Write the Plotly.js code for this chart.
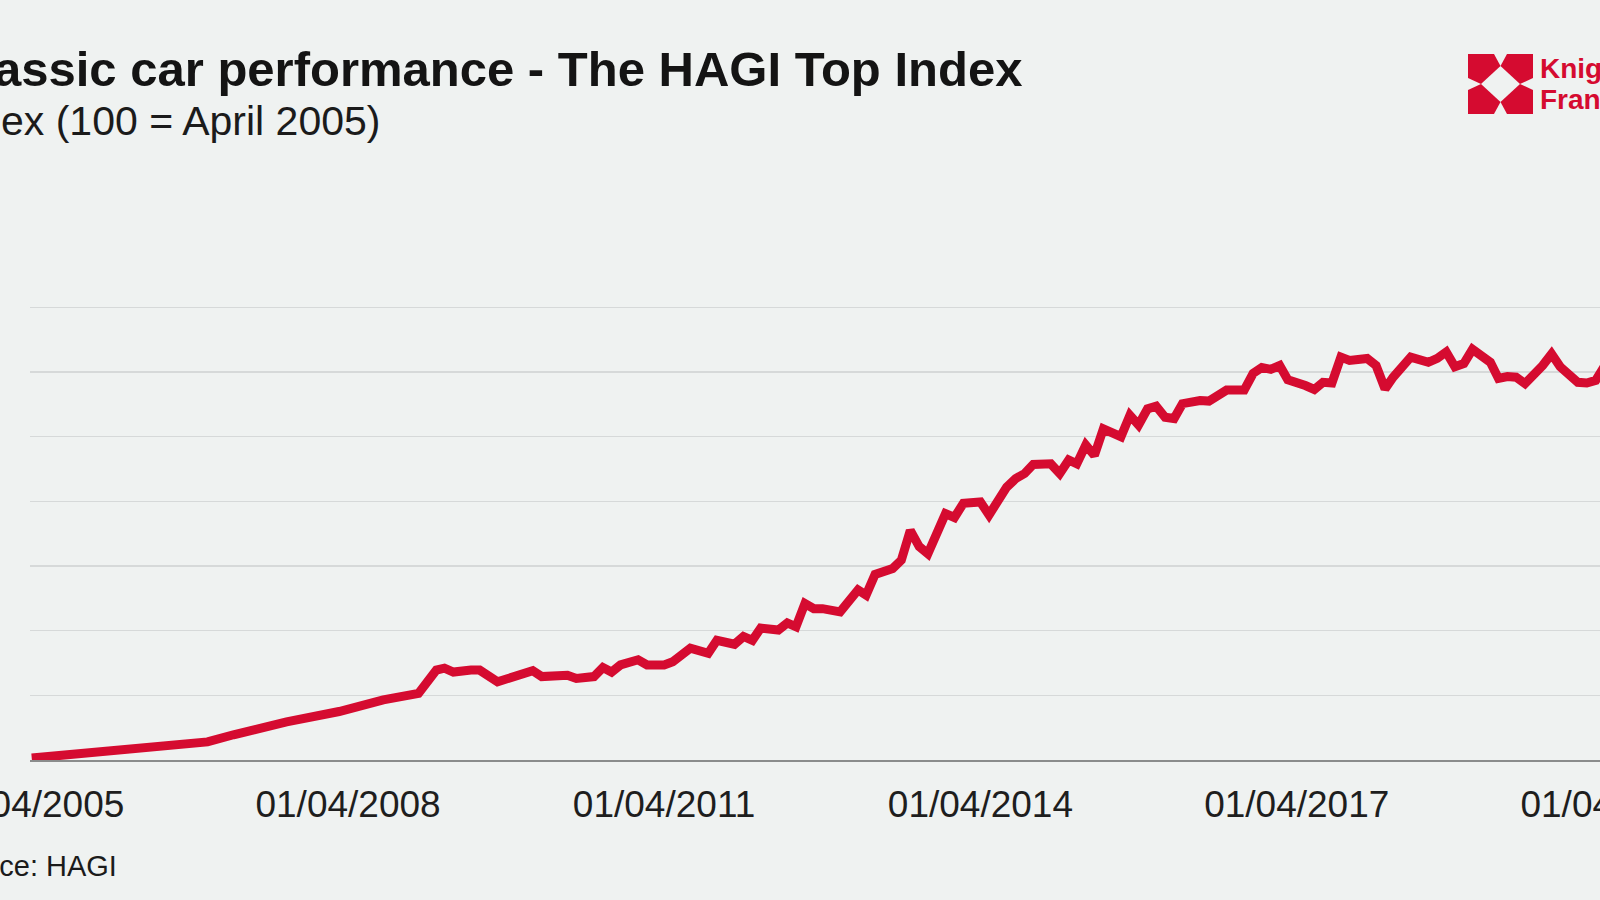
<!DOCTYPE html>
<html>
<head>
<meta charset="utf-8">
<script src="https://cdn.plot.ly/plotly-3.0.1.min.js"></script>
<style>
  html, body { margin: 0; padding: 0; width: 1600px; height: 900px; overflow: hidden; background: #eff2f1; }
  #chart { position: absolute; left: -100px; top: 0; width: 1800px; height: 900px; }
</style>
</head>
<body>
<div id="chart"></div>
<script>
// ---- Data ----
const dates = [
  "2005-04-01","2005-08-01","2006-02-01","2006-08-01","2006-12-01","2007-03-01","2007-09-01","2008-03-01",
  "2008-08-01","2008-12-01","2009-01-01","2009-02-01","2009-03-01","2009-04-01","2009-06-01","2009-07-01",
  "2009-09-01","2009-10-01","2010-01-01","2010-02-01","2010-05-01","2010-06-01","2010-08-01","2010-09-01",
  "2010-10-01","2010-11-01","2011-01-01","2011-02-01","2011-04-01","2011-05-01","2011-07-01","2011-09-01",
  "2011-10-01","2011-12-01","2012-01-01","2012-02-01","2012-03-01","2012-05-01","2012-06-01","2012-07-01",
  "2012-08-01","2012-09-01","2012-10-01","2012-12-01","2013-02-01","2013-03-01","2013-04-01","2013-06-01",
  "2013-07-01","2013-08-01","2013-09-01","2013-10-01","2013-12-01","2014-01-01","2014-02-01","2014-04-01",
  "2014-05-01","2014-07-01","2014-08-01","2014-09-01","2014-10-01","2014-12-01","2015-01-01","2015-02-01",
  "2015-03-01","2015-04-01","2015-05-01","2015-06-01","2015-08-01","2015-09-01","2015-10-01","2015-11-01",
  "2015-12-01","2016-01-01","2016-02-01","2016-03-01","2016-05-01","2016-06-01","2016-07-01","2016-08-01",
  "2016-10-01","2016-11-01","2016-12-01","2017-01-01","2017-02-01","2017-03-01","2017-05-01","2017-06-01",
  "2017-07-01","2017-08-01","2017-09-01","2017-10-01","2017-12-01","2018-01-01","2018-02-01","2018-03-01",
  "2018-05-01","2018-07-01","2018-08-01","2018-09-01","2018-10-01","2018-11-01","2018-12-01","2019-02-01",
  "2019-03-01","2019-04-01","2019-05-01","2019-06-01","2019-08-01","2019-09-01","2019-10-01","2019-12-01",
  "2020-01-01","2020-02-01","2020-03-01","2020-04-01"
];
const hagiTop = [
  103,108,115,123,128,139,159,175,
  193,203,224,239,242,236,239,239,
  221,226,238,229,231,226,229,243,
  236,247,255,247,247,252,273,265,
  285,279,291,285,304,301,312,306,
  342,334,334,329,363,355,387,396,
  409,455,430,419,481,475,497,499,
  479,522,535,543,557,558,543,564,
  558,587,571,612,600,633,618,643,
  647,630,628,651,656,655,662,672,
  672,698,707,704,710,688,679,673,
  684,683,723,718,721,710,674,692,
  723,715,721,731,708,713,735,715,
  690,693,692,682,710,728,708,684,
  683,687,708,722
];
const tickDates = ["2005-04-01","2008-04-01","2011-04-01","2014-04-01","2017-04-01","2020-04-01"];
const tickLabels = ["01/04/2005","01/04/2008","01/04/2011","01/04/2014","01/04/2017","01/04/2020"];
const gridVals = [200,300,400,500,600,700,800];

const titleText = "Classic car performance - The HAGI Top Index";
const subtitleText = "Index (100 = April 2005)";
const sourceText = "Source: HAGI";

// ---- Geometry helpers (screen px -> paper) ----
const DIV_LEFT = -100;
const M = {l: 130, r: 20, t: 275, b: 140};
const W = 1800, H = 900;
const plotL = DIV_LEFT + M.l;
const plotW = W - M.l - M.r;
const plotB = H - M.b;
const plotH = H - M.t - M.b;
const px = x => (x - plotL) / plotW;
const py = y => (plotB - y) / plotH;

const RED = "#d50b30";
const FONT = "Liberation Sans, Arial, Helvetica, sans-serif";

// Logo (Knight Frank mark) built from four corner pieces
const LX = 1468, LY = 54, LW = 65, LH = 60;
function lp(u, v) { return px(LX + LW * u).toFixed(5) + "," + py(LY + LH * v).toFixed(5); }
function piece(pts) { return "M" + pts.map(p => lp(p[0], p[1])).join(" L") + " Z"; }
const a = 0.40, b = 0.20;
const logoPieces = [
  [[0,0],[a,0],[0.5,b],[b,0.5],[0,a]],
  [[1,0],[1-a,0],[0.5,b],[1-b,0.5],[1,a]],
  [[0,1],[a,1],[0.5,1-b],[b,0.5],[0,1-a]],
  [[1,1],[1-a,1],[0.5,1-b],[1-b,0.5],[1,1-a]]
];
const shapes = logoPieces.map(p => ({
  type: "path", xref: "paper", yref: "paper", path: piece(p),
  fillcolor: RED, line: {width: 0}, layer: "above"
}));

const trace = {
  type: "scatter", mode: "lines", x: dates, y: hagiTop,
  line: {color: RED, width: 9, shape: "linear"},
  hoverinfo: "x+y"
};

const layout = {
  width: W, height: H,
  paper_bgcolor: "#eff2f1", plot_bgcolor: "#eff2f1",
  margin: M,
  showlegend: false,
  font: {family: FONT, color: "#1b1b1b"},
  xaxis: {
    type: "date",
    range: ["2005-03-26", "2020-11-19"],
    tickvals: tickDates, ticktext: tickLabels,
    tickfont: {size: 37, color: "#1e1e1e", family: FONT},
    ticklabeloverflow: "allow",
    showgrid: false, zeroline: false,
    showline: true, linecolor: "#8a8c8c", linewidth: 2,
    ticks: "", ticklabelstandoff: 11
  },
  yaxis: {
    range: [100, 850],
    tickvals: gridVals,
    showticklabels: false,
    showgrid: true, gridcolor: "#d6d9d9", gridwidth: 1.5,
    zeroline: false, showline: false, ticks: ""
  },
  shapes: shapes,
  annotations: [
    {text: "<b>" + titleText + "</b>", xref: "paper", yref: "paper",
     x: px(-57), y: py(69), xanchor: "left", yanchor: "middle", showarrow: false,
     font: {size: 49, color: "#141414", family: FONT}},
    {text: subtitleText, xref: "paper", yref: "paper",
     x: px(-58), y: py(121), xanchor: "left", yanchor: "middle", showarrow: false,
     font: {size: 41, color: "#1b1b1b", family: FONT}},
    {text: sourceText, xref: "paper", yref: "paper",
     x: px(-64), y: py(866), xanchor: "left", yanchor: "middle", showarrow: false,
     font: {size: 29, color: "#1b1b1b", family: FONT}},
    {text: "<b>Knight</b>", xref: "paper", yref: "paper",
     x: px(1538), y: py(69), xanchor: "left", yanchor: "middle", showarrow: false,
     font: {size: 28, color: RED, family: FONT}},
    {text: "<b>Frank</b>", xref: "paper", yref: "paper",
     x: px(1538), y: py(100), xanchor: "left", yanchor: "middle", showarrow: false,
     font: {size: 28, color: RED, family: FONT}}
  ]
};

Plotly.newPlot("chart", [trace], layout, {displayModeBar: false, staticPlot: true});
</script>
</body>
</html>
